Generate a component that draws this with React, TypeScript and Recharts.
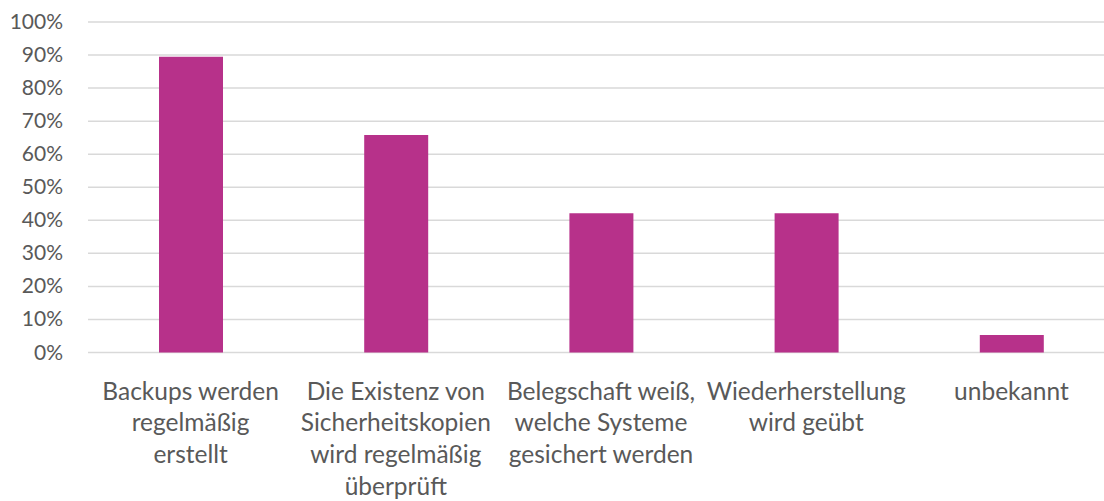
import React from "react";
import { Bar, BarChart, CartesianGrid, XAxis, YAxis } from "recharts";

// Kategorien (mit den Zeilenumbrüchen wie im Original)
const categories = [
  ["Backups werden", "regelmäßig", "erstellt"],
  ["Die Existenz von", "Sicherheitskopien", "wird regelmäßig", "überprüft"],
  ["Belegschaft weiß,", "welche Systeme", "gesichert werden"],
  ["Wiederherstellung", "wird geübt"],
  ["unbekannt"],
];

const shares = [0.895, 0.658, 0.421, 0.421, 0.053];

const yTicks = [0, 0.1, 0.2, 0.3, 0.4, 0.5, 0.6, 0.7, 0.8, 0.9, 1];

const BAR_COLOR = "#B7318A";
const TEXT_COLOR = "#595959";
const GRID_COLOR = "#D9D9D9";
const FONT = "Lato, 'Open Sans', sans-serif";

const data = categories.map((lines, i) => ({
  name: lines.join("\n"),
  value: shares[i],
}));

const XTick = (props: any) => {
  const { x, y, payload } = props;
  const lines = String(payload.value).split("\n");
  return (
    <text x={x} y={y} textAnchor="middle" fill={TEXT_COLOR} fontSize={24.5} fontFamily={FONT}>
      {lines.map((line, i) => (
        <tspan key={i} x={x} dy={i === 0 ? 39 : 31.7}>
          {line}
        </tspan>
      ))}
    </text>
  );
};

const YTick = (props: any) => {
  const { x, y, payload } = props;
  return (
    <text x={x} y={y} dy={7} textAnchor="end" fill={TEXT_COLOR} fontSize={21} fontFamily={FONT}>
      {`${Math.round(payload.value * 100)}%`}
    </text>
  );
};

export default function App() {
  return (
    <div
      style={{
        position: "absolute",
        left: 0,
        top: 0,
        width: 1104,
        height: 501,
        overflow: "hidden",
        background: "#fff",
      }}
    >
      <BarChart
        width={1114}
        height={501}
        data={data}
        margin={{ top: 22, right: 0, left: 0, bottom: 0 }}
        barSize={64}
      >
        <CartesianGrid vertical={false} stroke={GRID_COLOR} strokeWidth={1.5} />
        <XAxis
          dataKey="name"
          axisLine={false}
          tickLine={false}
          height={148.5}
          interval={0}
          tick={<XTick />}
        />
        <YAxis
          domain={[0, 1]}
          ticks={yTicks}
          width={88}
          axisLine={false}
          tickLine={false}
          tickSize={0}
          tickMargin={25}
          tick={<YTick />}
        />
        <Bar dataKey="value" fill={BAR_COLOR} isAnimationActive={false} />
      </BarChart>
    </div>
  );
}
